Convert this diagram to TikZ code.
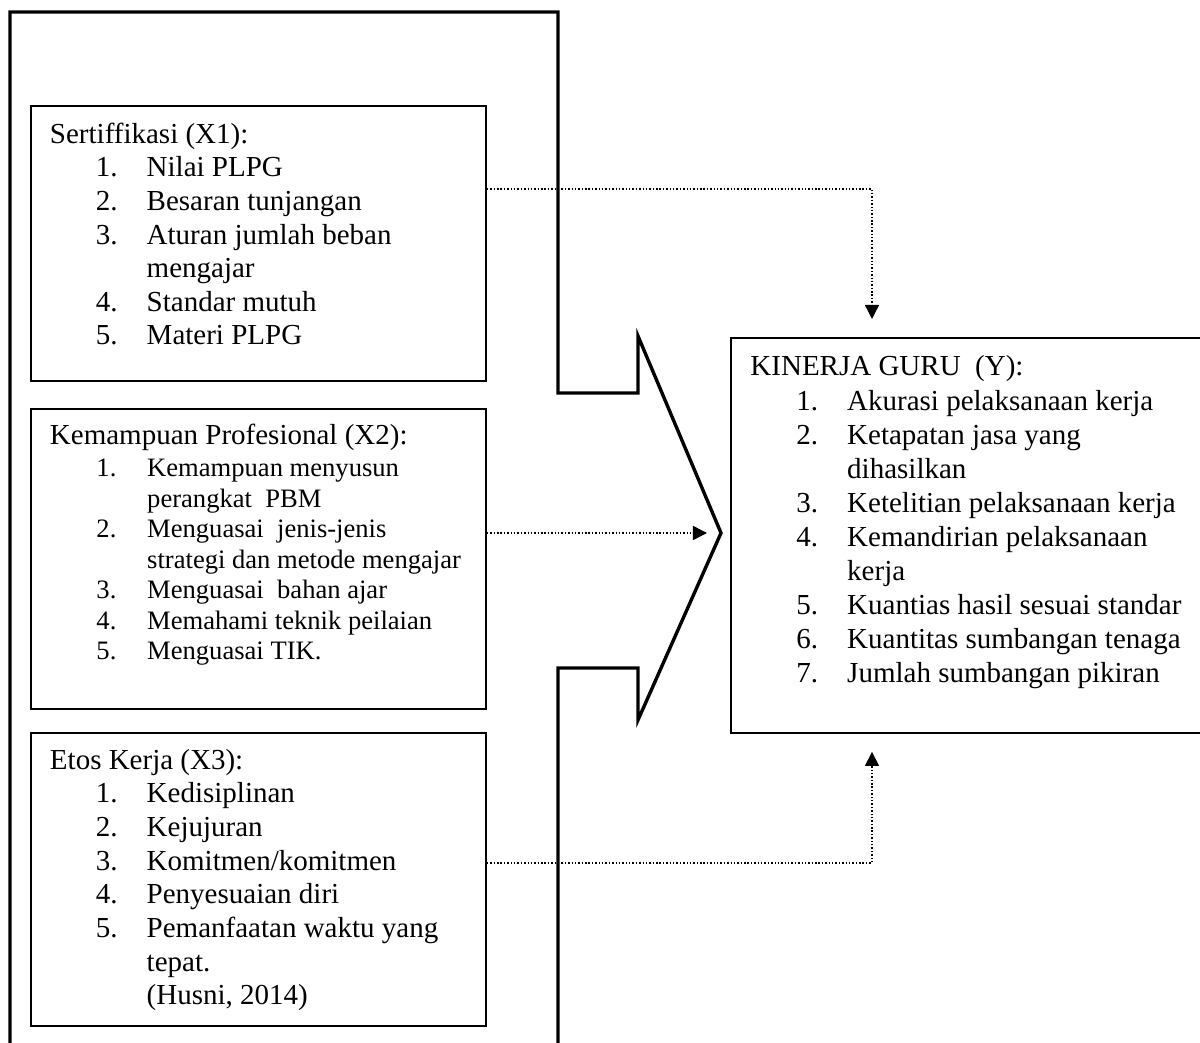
\documentclass[tikz,border=0pt]{standalone}
\usepackage{fontspec}
\setmainfont{Liberation Serif}
\usetikzlibrary{calc}
\usetikzlibrary{arrows.meta}
\newcommand{\vnum}[2]{\makebox[21pt][l]{#1}#2}
\newcommand{\vcont}[1]{\hspace*{21pt}#1}

\begin{document}
\begin{tikzpicture}[
  x=0.4138pt, y=-0.4138pt,
  varbox/.style 2 args={draw, line width=0.8pt, anchor=north west, inner sep=0,
    minimum width=#1*0.4138pt, minimum height=#2*0.4138pt},
  head/.style={anchor=base west, inner sep=0, font=\fontsize{12}{14}\selectfont},
  entry/.style={head},
  smallentry/.style={head, font=\fontsize{11}{13}\selectfont},
  link/.style={line width=0.6pt, dash pattern=on 0.6pt off 0.8pt,
    -{Triangle[length=5.8pt,width=5.8pt]}}]
  \useasboundingbox (0,0) rectangle (1200,1043);
  % thick frame with the big arrow
  \draw[line width=1.4pt] (10,1050) -- (10,12) -- (558,12) -- (558,393) -- (638,393)
    -- (638,336) -- (721,533) -- (638,720) -- (638,668) -- (558,668) -- (558,1050);
  % variable boxes
  \node[varbox={455}{275}] (sert) at (30,105) {};
  \node[varbox={455}{300}] (prof) at (30,408) {};
  \node[varbox={455}{293}] (etos) at (30,732) {};
  \node[varbox={480}{395}] (kinerja) at (730,337) {};
  % X1 indicators
  \node[head] (serthead) at (49.5,144) {Sertiffikasi (X1):};
  \foreach \t [count=\k from 0] in {{\vnum{1.}{Nilai PLPG}},{\vnum{2.}{Besaran tunjangan}},
      {\vnum{3.}{Aturan jumlah beban}},{\vcont{mengajar}},{\vnum{4.}{Standar mutuh}},
      {\vnum{5.}{Materi PLPG}}}
    \node[entry] (sert\k) at (95.5,177+33.6*\k) {\t};
  % X2 indicators
  \node[head] (profhead) at (49.5,445) {Kemampuan Profesional (X2):};
  \foreach \t [count=\k from 0] in {{\vnum{1.}{Kemampuan menyusun}},{\vcont{perangkat~ PBM}},
      {\vnum{2.}{Menguasai~ jenis-jenis}},{\vcont{strategi dan metode mengajar}},
      {\vnum{3.}{Menguasai~ bahan ajar}},{\vnum{4.}{Memahami teknik peilaian}},
      {\vnum{5.}{Menguasai TIK.}}}
    \node[smallentry] (prof\k) at (96,477+30.5*\k) {\t};
  % X3 indicators
  \node[head] (etoshead) at (49.5,770) {Etos Kerja (X3):};
  \foreach \t [count=\k from 0] in {{\vnum{1.}{Kedisiplinan}},{\vnum{2.}{Kejujuran}},
      {\vnum{3.}{Komitmen/komitmen}},{\vnum{4.}{Penyesuaian diri}},
      {\vnum{5.}{Pemanfaatan waktu yang}},{\vcont{tepat.}},{\vcont{(Husni, 2014)}}}
    \node[entry] (etos\k) at (95.5,803+33.6*\k) {\t};
  % Y indicators
  \node[head] (kinhead) at (750,376) {KINERJA GURU~ (Y):};
  \foreach \t [count=\k from 0] in {{\vnum{1.}{Akurasi pelaksanaan kerja}},
      {\vnum{2.}{Ketapatan jasa yang}},{\vcont{dihasilkan}},
      {\vnum{3.}{Ketelitian pelaksanaan kerja}},{\vnum{4.}{Kemandirian pelaksanaan}},
      {\vcont{kerja}},{\vnum{5.}{Kuantias hasil sesuai standar}},
      {\vnum{6.}{Kuantitas sumbangan tenaga}},{\vnum{7.}{Jumlah sumbangan pikiran}}}
    \node[entry] (kin\k) at (796,411+34*\k) {\t};
  % dotted links
  \coordinate (kinin) at ($(kinerja.north west)+(142,-18)$);
  \coordinate (kinup) at ($(kinerja.south west)+(142,18)$);
  \coordinate (chevin) at (707,533);
  \draw[link] ($(sert.north east)+(0,84)$) -| (kinin);
  \draw[link] ($(prof.north east)+(0,125)$) -- (chevin);
  \draw[link] ($(etos.north east)+(0,131)$) -| (kinup);
\end{tikzpicture}
\end{document}
